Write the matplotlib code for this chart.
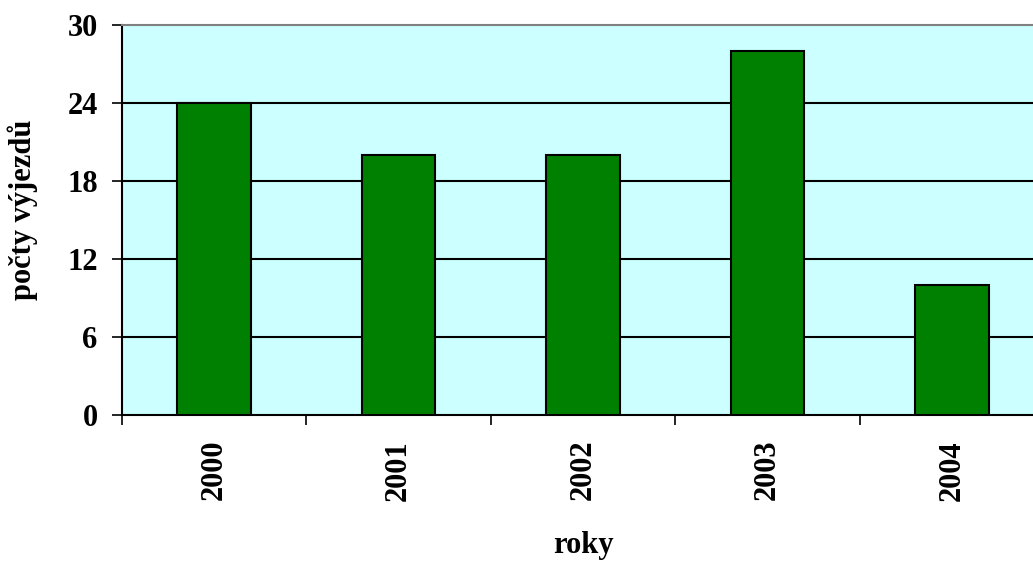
import matplotlib.pyplot as plt
import numpy as np

years = ["2000", "2001", "2002", "2003", "2004"]
counts = [24, 20, 20, 28, 10]
y_ticks = [0, 6, 12, 18, 24, 30]

plt.rcParams['font.family'] = ['Liberation Serif', 'DejaVu Serif']
plt.rcParams['font.weight'] = 'bold'

W, H = 1033, 561
fig = plt.figure(figsize=(W / 100, H / 100), dpi=100)
# plot area runs a little past the right edge of the picture, as in the original
ax = fig.add_axes([122 / W, 1 - 415 / H, 922 / W, 390 / H])
ax.set_facecolor('#CCFFFF')

x = np.arange(len(years))
ax.bar(x, counts, width=0.4, color='#008000', edgecolor='black', linewidth=1.5, zorder=3)

ax.set_xlim(-0.5, len(years) - 0.5)
ax.set_ylim(0, 30)
ax.set_yticks(y_ticks)
ax.set_yticklabels([str(v) for v in y_ticks], fontsize=22, fontweight='bold')
for v in y_ticks[1:-1]:
    ax.axhline(v, color='black', linewidth=1.5, zorder=1)

# category labels at centers, tick marks at boundaries
ax.set_xticks(x)
ax.set_xticklabels(years, rotation=90, fontsize=22, fontweight='bold')
ax.tick_params(axis='x', length=0, pad=18)
ax.set_xticks(np.arange(len(years) + 1) - 0.5, minor=True)
ax.tick_params(axis='x', which='minor', length=7.5, width=1.2, direction='out')
ax.tick_params(axis='y', length=7.5, width=1.2, direction='out', pad=10)

ax.spines['right'].set_visible(False)
ax.spines['top'].set_color('#808080')
ax.spines['top'].set_linewidth(1.5)
ax.spines['left'].set_linewidth(1.5)
ax.spines['bottom'].set_linewidth(1.5)

# axis titles placed where the original has them
fig.text(23 / W, 1 - 210 / H, 'počty výjezdů', rotation=90, ha='center', va='center',
         fontsize=22, fontweight='bold')
fig.text(583 / W, 1 - 546 / H, 'roky', ha='center', va='center',
         fontsize=22, fontweight='bold')

fig.savefig('out.png', dpi=100)
